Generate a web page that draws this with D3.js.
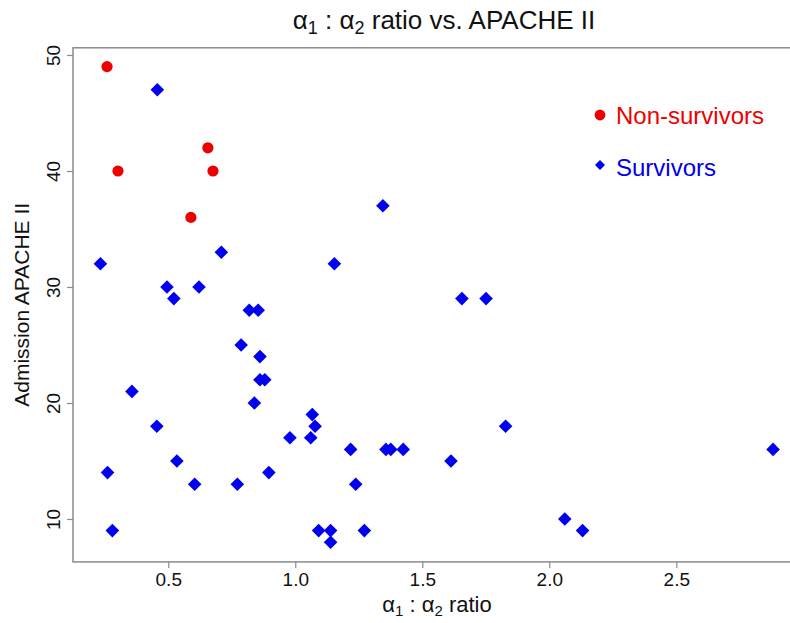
<!DOCTYPE html>
<html>
<head>
<meta charset="utf-8">
<script src="https://cdn.jsdelivr.net/npm/d3@7"></script>
<style>
  body { margin: 0; background: #fff; }
  svg { display: block; font-family: "Liberation Sans", Arial, sans-serif; }
</style>
</head>
<body>
<div id="chart"></div>
<script>
// Non-survivors (red circles)
const nonSurvivorRatio = [0.259, 0.302, 0.656, 0.676, 0.589];
const nonSurvivorApache = [49, 40, 42, 40, 36];

// Survivors (blue diamonds)
const survivorRatio = [0.457, 0.233, 0.709, 0.495, 0.621, 0.522, 0.819, 0.854, 0.787, 0.861,
  0.861, 0.880, 0.839, 0.357, 1.067, 0.455, 1.078, 0.979, 1.061, 0.534,
  0.261, 0.896, 0.604, 0.772, 0.280, 1.092, 1.345, 1.154, 1.656, 1.751,
  1.218, 1.357, 1.376, 1.425, 1.828, 1.613, 1.238, 1.139, 1.139, 1.272,
  2.881, 2.061, 2.131];
const survivorApache = [47, 32, 33, 30, 30, 29, 28, 28, 25, 24,
  22, 22, 20, 21, 19, 18, 18, 17, 17, 15,
  14, 14, 13, 13, 9, 9, 37, 32, 29, 29,
  16, 16, 16, 16, 18, 15, 13, 9, 8, 9,
  16, 10, 9];

const xTicks = [0.5, 1.0, 1.5, 2.0, 2.5];
const yTicks = [10, 20, 30, 40, 50];
const legendLabels = ["Non-survivors", "Survivors"];

const W = 790, H = 623;

const svg = d3.select("#chart").append("svg")
  .attr("width", W).attr("height", H);

const x = d3.scaleLinear().domain([0.125, 3.0]).range([73, 803.3]);
const y = d3.scaleLinear().domain([6.3, 50.62]).range([561.9, 47.8]);

const axisColor = "#8a8a8a";

// box
svg.append("rect")
  .attr("x", x.range()[0]).attr("y", y.range()[1])
  .attr("width", x.range()[1] - x.range()[0])
  .attr("height", y.range()[0] - y.range()[1])
  .attr("fill", "none").attr("stroke", axisColor).attr("stroke-width", 1.5);

// x axis
const xAxis = svg.append("g")
  .attr("transform", `translate(0,${y.range()[0]})`)
  .call(d3.axisBottom(x).tickValues(xTicks).tickFormat(d3.format(".1f")).tickSize(6).tickPadding(5));
xAxis.select(".domain").remove();
xAxis.selectAll("line").attr("stroke", axisColor).attr("stroke-width", 1.2);
xAxis.selectAll("text").attr("font-size", 19).attr("fill", "#111")
  .attr("font-family", "Liberation Sans, Arial, sans-serif");

// y axis
const yAxis = svg.append("g")
  .attr("transform", `translate(${x.range()[0]},0)`)
  .call(d3.axisLeft(y).tickValues(yTicks).tickSize(6));
yAxis.select(".domain").remove();
yAxis.selectAll("line").attr("stroke", axisColor).attr("stroke-width", 1.2);
yAxis.selectAll("text")
  .attr("font-size", 19).attr("fill", "#111")
  .attr("font-family", "Liberation Sans, Arial, sans-serif")
  .attr("x", null).attr("dy", null)
  .attr("text-anchor", "middle")
  .attr("transform", "translate(-20,0) rotate(-90)")
  .attr("dominant-baseline", "central")
  .attr("y", 0);

// diamond shape
const diamond = r => `M0,${-r}L${r},0L0,${r}L${-r},0Z`;

// survivors
const survivors = survivorRatio.map((v, i) => ({ x: v, y: survivorApache[i] }));
svg.append("g").selectAll("path").data(survivors).enter().append("path")
  .attr("d", diamond(6.8))
  .attr("transform", d => `translate(${x(d.x)},${y(d.y)})`)
  .attr("fill", "#0000ee");

// non-survivors
const nonSurvivors = nonSurvivorRatio.map((v, i) => ({ x: v, y: nonSurvivorApache[i] }));
svg.append("g").selectAll("circle").data(nonSurvivors).enter().append("circle")
  .attr("cx", d => x(d.x)).attr("cy", d => y(d.y)).attr("r", 5.6)
  .attr("fill", "#ee0000");

// title
const title = svg.append("text")
  .attr("x", 444).attr("y", 29)
  .attr("text-anchor", "middle").attr("font-size", 26).attr("fill", "#111");
title.append("tspan").text("α");
title.append("tspan").text("1").attr("font-size", 18).attr("dy", 5);
title.append("tspan").text(" : α").attr("dy", -5);
title.append("tspan").text("2").attr("font-size", 18).attr("dy", 5);
title.append("tspan").text(" ratio vs. APACHE II").attr("dy", -5);

// x label
const xl = svg.append("text")
  .attr("x", 437).attr("y", 612)
  .attr("text-anchor", "middle").attr("font-size", 22).attr("fill", "#111");
xl.append("tspan").text("α");
xl.append("tspan").text("1").attr("font-size", 15).attr("dy", 4);
xl.append("tspan").text(" : α").attr("dy", -4);
xl.append("tspan").text("2").attr("font-size", 15).attr("dy", 4);
xl.append("tspan").text(" ratio").attr("dy", -4);

// y label
svg.append("text")
  .attr("transform", `translate(29,${(y.range()[0] + y.range()[1]) / 2}) rotate(-90)`)
  .attr("text-anchor", "middle").attr("font-size", 21).attr("fill", "#111")
  .text("Admission APACHE II");

// legend
const legend = svg.append("g");
legend.append("circle").attr("cx", 600).attr("cy", 115).attr("r", 5.4).attr("fill", "#ee0000");
legend.append("text").attr("x", 616).attr("y", 123.5).attr("font-size", 24)
  .attr("fill", "#ee0000").text(legendLabels[0]);
legend.append("path").attr("d", diamond(5)).attr("transform", "translate(600,165)").attr("fill", "#0000ee");
legend.append("text").attr("x", 616).attr("y", 176).attr("font-size", 24)
  .attr("fill", "#0000ee").text(legendLabels[1]);
</script>
</body>
</html>
